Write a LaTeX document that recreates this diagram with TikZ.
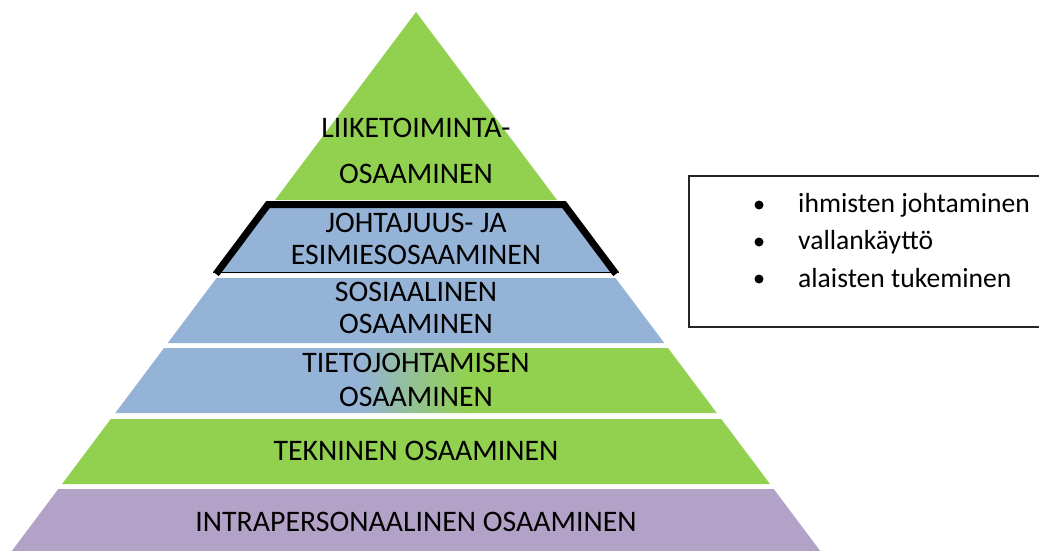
\documentclass[tikz,border=0pt]{standalone}
\usepackage{fontspec}
\setmainfont{Carlito}
\definecolor{pgreen}{RGB}{146,208,80}
\definecolor{pblue}{RGB}{149,179,215}
\definecolor{ppurple}{RGB}{178,162,199}
\begin{document}
\begin{tikzpicture}[x=1pt,y=-1pt,
  lbl/.style={anchor=base, inner sep=0pt, font=\fontsize{29.8}{33}\selectfont},
  blt/.style={anchor=base west, inner sep=0pt, font=\fontsize{27.6}{33}\selectfont},
  bdot/.style={circle, fill=black, inner sep=0pt, minimum size=9pt},
  frame/.style={draw=black!85, line width=1.2pt}]
\useasboundingbox (0,0) rectangle (1039,551);
\clip (0,0) rectangle (1039,551);
% top triangle
\fill[pgreen] (416,12) -- (557,200) -- (275,200) -- cycle;
% johtajuus band
\fill[pblue] (274.25,201) -- (557.75,201) -- (611.75,273) -- (220.25,273) -- cycle;
\draw[line width=7pt, miter limit=10] (216,274) -- (268,204.5) -- (564,204.5) -- (616,274);
\draw[line width=1.5pt] (213,272.5) -- (619,272.5);
% sosiaalinen band
\fill[pblue] (216.5,278) -- (615.5,278) -- (664.25,343) -- (167.75,343) -- cycle;
% tietojohtamisen band with gradient
\begin{scope}
\clip (164,348) -- (668,348) -- (716.75,413) -- (115.25,413) -- cycle;
\fill[pblue] (100,340) rectangle (362,420);
\shade[left color=pblue, right color=pgreen] (360,340) rectangle (467,420);
\fill[pgreen] (465,340) rectangle (730,420);
\end{scope}
% tekninen band
\fill[pgreen] (110.75,419) -- (721.25,419) -- (770,484) -- (62,484) -- cycle;
% intrapersonaalinen band
\fill[ppurple] (58.25,489) -- (773.75,489) -- (826.25,559) -- (5.75,559) -- cycle;
% labels
\node[lbl] (l1a) at (416,137) {LIIKETOIMINTA-};
\node[lbl] (l1b) at (416,183) {OSAAMINEN};
\node[lbl] (l2a) at (416,232) {JOHTAJUUS- JA};
\node[lbl] (l2b) at (416,264) {ESIMIESOSAAMINEN};
\node[lbl] (l3a) at (416,301) {SOSIAALINEN};
\node[lbl] (l3b) at (416,333) {OSAAMINEN};
\node[lbl] (l4a) at (416,372) {TIETOJOHTAMISEN};
\node[lbl] (l4b) at (416,406) {OSAAMINEN};
\node[lbl] (l5) at (416,460) {TEKNINEN OSAAMINEN};
\node[lbl] (l6) at (416,531) {INTRAPERSONAALINEN OSAAMINEN};
% bullet box
\draw[frame] (689,176) rectangle (1060,327);
\node[bdot] (d1) at (759,205) {};
\node[bdot] (d2) at (759,242) {};
\node[bdot] (d3) at (759,279) {};
\node[blt] (t1) at (798,212) {ihmisten johtaminen};
\node[blt] (t2) at (798,249) {vallankäyttö};
\node[blt] (t3) at (798,287) {alaisten tukeminen};
\end{tikzpicture}
\end{document}
